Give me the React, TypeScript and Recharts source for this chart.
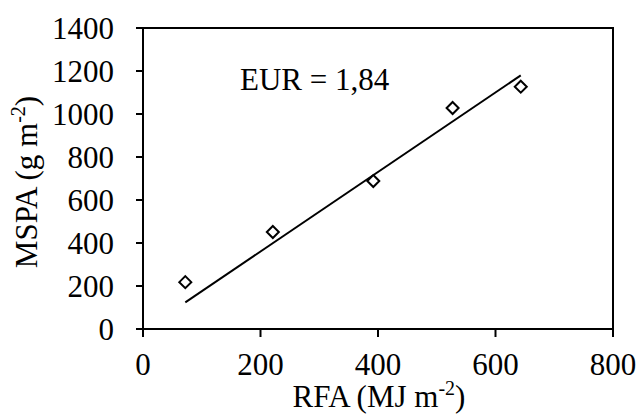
import React from "react";
import {
  ScatterChart,
  Scatter,
  XAxis,
  YAxis,
  ReferenceLine,
  ReferenceArea,
  ReferenceDot,
  Label,
} from "recharts";

// RFA (MJ m-2) vs MSPA (g m-2)
const rfa = [72, 221, 392, 527, 643];
const mspa = [218, 451, 688, 1028, 1127];

// fitted line endpoints
const fitX = [72, 643];
const fitY = [124, 1180];

const xTicks = [0, 200, 400, 600, 800];
const yTicks = [0, 200, 400, 600, 800, 1000, 1200, 1400];

const eurText = "EUR = 1,84";

const FONT = "'Liberation Serif', 'Times New Roman', serif";

const points = rfa.map((x, i) => ({ x, y: mspa[i] }));

const Diamond = (props: any) => {
  const { cx, cy } = props;
  const r = 6;
  return (
    <path
      d={`M${cx},${cy - r}L${cx + r},${cy}L${cx},${cy + r}L${cx - r},${cy}Z`}
      fill="#fff"
      stroke="#000"
      strokeWidth={2}
    />
  );
};

const XTick = (props: any) => {
  const { x, y, payload } = props;
  return (
    <text x={x} y={y} dy="0.71em" textAnchor="middle" style={{ fontFamily: FONT, fontSize: 31 }} fill="#000">
      {payload.value}
    </text>
  );
};

const YTick = (props: any) => {
  const { x, y, payload } = props;
  return (
    <text x={x} y={y} dy="0.355em" textAnchor="end" style={{ fontFamily: FONT, fontSize: 31 }} fill="#000">
      {payload.value}
    </text>
  );
};

const textStyle = { fontFamily: FONT, fontSize: 31 };

export default function App() {
  return (
    <div style={{ position: "absolute", left: 0, top: 0, background: "#fff", fontFamily: FONT }}>
      <ScatterChart
        width={640}
        height={416}
        margin={{ top: 28, right: 27, bottom: 0, left: 0 }}
      >
        <XAxis
          type="number"
          dataKey="x"
          domain={[0, 800]}
          ticks={xTicks}
          height={87}
          tickSize={8}
          tickMargin={16}
          axisLine={{ stroke: "#000", strokeWidth: 2 }}
          tickLine={{ stroke: "#000", strokeWidth: 2 }}
          tick={<XTick />}
        >
          <Label
            content={() => (
              <text x={379} y={407} textAnchor="middle" style={textStyle} fill="#000">
                RFA (MJ m
                <tspan style={{ fontSize: 20 }} dy={-12}>-2</tspan>
                <tspan dy={12}>)</tspan>
              </text>
            )}
          />
        </XAxis>
        <YAxis
          type="number"
          dataKey="y"
          domain={[0, 1400]}
          ticks={yTicks}
          width={143}
          tickSize={7}
          tickMargin={22}
          axisLine={{ stroke: "#000", strokeWidth: 2 }}
          tickLine={{ stroke: "#000", strokeWidth: 2 }}
          tick={<YTick />}
        >
          <Label
            content={() => (
              <text
                x={37}
                y={182}
                transform="rotate(-90 37 182)"
                textAnchor="middle"
                style={textStyle}
                fill="#000"
              >
                MSPA (g m
                <tspan style={{ fontSize: 20 }} dy={-12}>-2</tspan>
                <tspan dy={12}>)</tspan>
              </text>
            )}
          />
        </YAxis>
        {/* frame around the plot area */}
        <ReferenceArea
          x1={0}
          x2={800}
          y1={0}
          y2={1400}
          fill="none"
          stroke="#000"
          strokeWidth={2}
          fillOpacity={0}
        />
        <ReferenceLine
          segment={[
            { x: fitX[0], y: fitY[0] },
            { x: fitX[1], y: fitY[1] },
          ]}
          stroke="#000"
          strokeWidth={2}
        />
        <ReferenceDot
          x={165}
          y={1140}
          r={0}
          fill="none"
          stroke="none"
          label={() => (
            <text x={240} y={90} style={textStyle} fill="#000">
              {eurText}
            </text>
          )}
        />
        <Scatter data={points} shape={<Diamond />} isAnimationActive={false} />
      </ScatterChart>
    </div>
  );
}
